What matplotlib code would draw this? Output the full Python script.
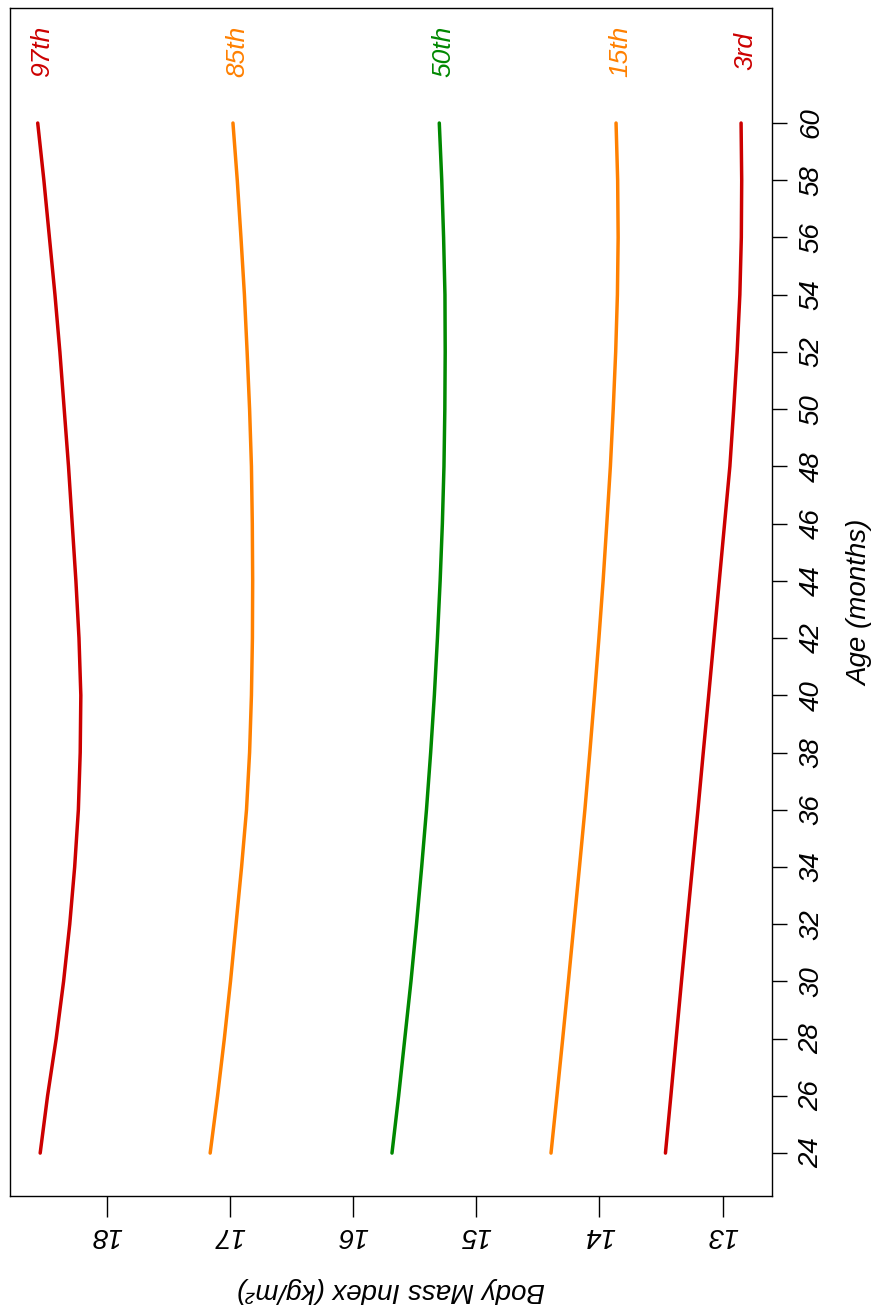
import numpy as np
import matplotlib
matplotlib.use("Agg")
import matplotlib.pyplot as plt

plt.rcParams['font.family'] = ['Liberation Sans', 'DejaVu Sans']
plt.rcParams['font.style'] = 'italic'

# ages (months) and BMI percentile curves
age = [24, 26, 28, 30, 32, 34, 36, 38, 40, 42, 44, 46, 48, 50, 52, 54, 56, 58, 60]
p97 = [18.54, 18.48, 18.41, 18.35, 18.30, 18.26, 18.23, 18.215, 18.21, 18.225,
       18.25, 18.28, 18.31, 18.345, 18.38, 18.42, 18.465, 18.51, 18.56]
p85 = [17.16, 17.10, 17.045, 16.995, 16.95, 16.905, 16.865, 16.84, 16.825, 16.817,
       16.815, 16.818, 16.825, 16.84, 16.86, 16.882, 16.91, 16.94, 16.975]
p50 = [15.684, 15.63, 15.58, 15.53, 15.485, 15.443, 15.404, 15.37, 15.34, 15.315,
       15.293, 15.275, 15.262, 15.255, 15.252, 15.254, 15.265, 15.28, 15.30]
p15 = [14.393, 14.345, 14.298, 14.252, 14.207, 14.162, 14.118, 14.078, 14.04, 14.004,
       13.97, 13.94, 13.911, 13.888, 13.868, 13.854, 13.848, 13.852, 13.865]
p03 = [13.464, 13.42, 13.377, 13.334, 13.29, 13.245, 13.20, 13.157, 13.113, 13.07,
       13.027, 12.984, 12.941, 12.91, 12.882, 12.86, 12.848, 12.845, 12.85]

curves = [p97, p85, p50, p15, p03]
names = ["97th", "85th", "50th", "15th", "3rd"]
colours = ["#cc0000", "#ff8000", "#008800", "#ff8000", "#cc0000"]

age_ticks = list(range(24, 61, 2))
bmi_ticks = [13, 14, 15, 16, 17, 18]

fig = plt.figure(figsize=(8.89, 13.10), dpi=100)
ax = fig.add_axes([10/889, 1-1196/1310, 762/889, 1188/1310])

# chart is drawn turned on its side: BMI runs along x (reversed), age along y
for vals, name, col in zip(curves, names, colours):
    ax.plot(vals, age, color=col, lw=2.5, solid_capstyle='round', solid_joinstyle='round')
    ax.text(vals[-1] - 0.035, 62.5, name, color=col, rotation=90,
            ha='center', va='center', fontsize=19)

ax.set_xlim(18.785, 12.599)
ax.set_ylim(22.5, 64.02)

ax.yaxis.tick_right()
ax.set_yticks(age_ticks)
ax.set_yticklabels([str(a) for a in age_ticks], rotation=90, va='center', fontsize=20)
ax.set_xticks(bmi_ticks)
ax.set_xticklabels([str(b) for b in bmi_ticks], rotation=180, fontsize=20)
ax.tick_params(axis='y', length=11, width=1, pad=8)
ax.tick_params(axis='x', length=15, width=1, pad=4)

for s in ax.spines.values():
    s.set_linewidth(1)

fig.text(860/889, 1-603/1310, "Age (months)", rotation=90, ha='center', va='center', fontsize=20)
fig.text(391/889, 1-1290/1310, "Body Mass Index (kg/m²)", rotation=180, ha='center', va='center', fontsize=20)

fig.savefig("out.png", dpi=100)
